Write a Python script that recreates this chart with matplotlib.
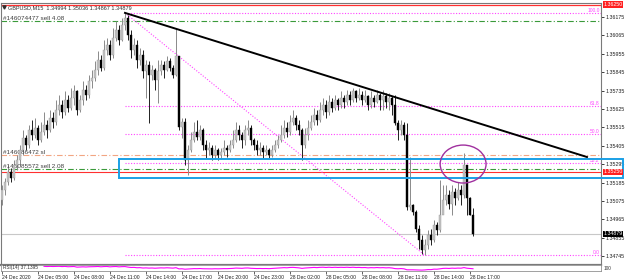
import matplotlib
matplotlib.use("Agg")
import matplotlib.pyplot as plt
from matplotlib.patches import Rectangle, Ellipse
import numpy as np

plt.rcParams['font.family'] = ['Liberation Sans', 'DejaVu Sans']

# ---------------- data ----------------
title_text = "GBPUSD,M15  1.34994 1.35036 1.34867 1.34879"
first_open = 1.3508
closes = [1.3514, 1.3519, 1.3525, 1.3521, 1.3529, 1.3532, 1.3538, 1.3545, 1.3541, 1.3550,
          1.3547, 1.3551, 1.3544, 1.3549, 1.3553, 1.3550, 1.3557, 1.3555, 1.3562, 1.3565,
          1.3561, 1.3568, 1.3563, 1.3569, 1.3573, 1.3562, 1.3568, 1.3574, 1.3571, 1.3579,
          1.3581, 1.3586, 1.3592, 1.3587, 1.3598, 1.3601, 1.3595, 1.3605, 1.3610, 1.3604,
          1.3613, 1.3617, 1.3607, 1.3598, 1.3601, 1.3592, 1.3595, 1.3585, 1.3589, 1.3583,
          1.3586, 1.3580, 1.3585, 1.3589, 1.3586, 1.3591, 1.3587, 1.3583, 1.3594, 1.3552,
          1.3555, 1.3532, 1.3538, 1.3544, 1.3549, 1.3546, 1.3550, 1.3541, 1.3538, 1.3539,
          1.3535, 1.3538, 1.3535, 1.3537, 1.3539, 1.3538, 1.3541, 1.3544, 1.3550, 1.3547,
          1.3544, 1.3550, 1.3551, 1.3544, 1.3541, 1.3538, 1.3539, 1.3537, 1.3538, 1.3535,
          1.3538, 1.3541, 1.3544, 1.3547, 1.3551, 1.3549, 1.3555, 1.3557, 1.3553, 1.3550,
          1.3541, 1.3547, 1.3551, 1.3555, 1.3559, 1.3556, 1.3562, 1.3565, 1.3561, 1.3567,
          1.3563, 1.3568, 1.3565, 1.3569, 1.3567, 1.3571, 1.3568, 1.3573, 1.3569, 1.3571,
          1.3568, 1.3570, 1.3565, 1.3569, 1.3567, 1.3571, 1.3568, 1.3570, 1.3567, 1.3569,
          1.3565, 1.3554, 1.3550, 1.3553, 1.3547, 1.3504, 1.3505, 1.3501, 1.3491, 1.3484,
          1.3478, 1.3481, 1.3487, 1.3484, 1.3493, 1.3490, 1.3499, 1.3508, 1.3511, 1.3506,
          1.3513, 1.3509, 1.3514, 1.3511, 1.3529, 1.3509, 1.34994, 1.34879]
highs = [1.3517, 1.3521, 1.3529, 1.3527, 1.3532, 1.3535, 1.3541, 1.3550, 1.3547, 1.3553,
         1.3556, 1.3557, 1.3553, 1.3555, 1.3561, 1.3556, 1.3562, 1.3561, 1.3568, 1.3571,
         1.3568, 1.3573, 1.3571, 1.3575, 1.3577, 1.3574, 1.3571, 1.3579, 1.3577, 1.3583,
         1.3586, 1.3591, 1.3597, 1.3595, 1.3604, 1.3605, 1.3604, 1.3611, 1.3615, 1.3613,
         1.3617, 1.3620, 1.3619, 1.3610, 1.3605, 1.3604, 1.3599, 1.3598, 1.3592, 1.3591,
         1.3589, 1.3587, 1.3592, 1.3592, 1.3591, 1.3594, 1.3593, 1.3589, 1.3611, 1.3594,
         1.3557, 1.3557, 1.3541, 1.3549, 1.3555, 1.3556, 1.3553, 1.3551, 1.3544, 1.3543,
         1.3541, 1.3541, 1.3539, 1.3539, 1.3544, 1.3541, 1.3544, 1.3550, 1.3555, 1.3553,
         1.3549, 1.3553, 1.3556, 1.3553, 1.3545, 1.3544, 1.3543, 1.3541, 1.3541, 1.3539,
         1.3541, 1.3544, 1.3547, 1.3553, 1.3556, 1.3555, 1.3559, 1.3562, 1.3559, 1.3556,
         1.3551, 1.3551, 1.3556, 1.3559, 1.3563, 1.3562, 1.3567, 1.3569, 1.3568, 1.3571,
         1.3569, 1.3571, 1.3569, 1.3573, 1.3571, 1.3574, 1.3573, 1.3575, 1.3574, 1.3575,
         1.3573, 1.3574, 1.3571, 1.3573, 1.3571, 1.3574, 1.3572, 1.3574, 1.3572, 1.3572,
         1.3570, 1.3571, 1.3556, 1.3556, 1.3555, 1.3554, 1.3534, 1.3506, 1.3502, 1.3493,
         1.3487, 1.3485, 1.3490, 1.3491, 1.3496, 1.3495, 1.3520, 1.3517, 1.3517, 1.3514,
         1.3517, 1.3515, 1.3519, 1.3517, 1.3536, 1.3529, 1.3510, 1.35036]
lows = [1.3505, 1.3511, 1.3517, 1.3519, 1.3520, 1.3526, 1.3529, 1.3535, 1.3538, 1.3539,
        1.3544, 1.3545, 1.3541, 1.3543, 1.3547, 1.3545, 1.3549, 1.3551, 1.3553, 1.3559,
        1.3557, 1.3559, 1.3561, 1.3562, 1.3565, 1.3559, 1.3561, 1.3565, 1.3568, 1.3569,
        1.3575, 1.3579, 1.3583, 1.3585, 1.3586, 1.3595, 1.3592, 1.3593, 1.3603, 1.3601,
        1.3603, 1.3610, 1.3604, 1.3593, 1.3595, 1.3587, 1.3589, 1.3581, 1.3569, 1.3554,
        1.3580, 1.3574, 1.3566, 1.3583, 1.3581, 1.3585, 1.3585, 1.3581, 1.3582, 1.3550,
        1.3545, 1.3529, 1.3523, 1.3537, 1.3543, 1.3544, 1.3544, 1.3538, 1.3533, 1.3535,
        1.3532, 1.3533, 1.3532, 1.3533, 1.3535, 1.3534, 1.3537, 1.3539, 1.3543, 1.3544,
        1.3539, 1.3541, 1.3547, 1.3541, 1.3538, 1.3535, 1.3535, 1.3533, 1.3535, 1.3533,
        1.3534, 1.3537, 1.3539, 1.3543, 1.3545, 1.3546, 1.3547, 1.3553, 1.3550, 1.3547,
        1.3532, 1.3539, 1.3544, 1.3550, 1.3553, 1.3553, 1.3555, 1.3559, 1.3557, 1.3559,
        1.3561, 1.3562, 1.3562, 1.3563, 1.3563, 1.3565, 1.3565, 1.3567, 1.3567, 1.3568,
        1.3565, 1.3567, 1.3562, 1.3563, 1.3564, 1.3566, 1.3562, 1.3562, 1.3563, 1.3562,
        1.3559, 1.3553, 1.3544, 1.3547, 1.3544, 1.3502, 1.3502, 1.3499, 1.3489, 1.3479,
        1.3476, 1.3475, 1.3479, 1.3481, 1.3483, 1.3487, 1.3489, 1.3502, 1.3505, 1.3503,
        1.3499, 1.3505, 1.3508, 1.3505, 1.3509, 1.3499, 1.3499, 1.34867]

time_labels = ["24 Dec 2020", "24 Dec 05:00", "24 Dec 08:00", "24 Dec 11:00", "24 Dec 14:00",
               "24 Dec 17:00", "24 Dec 20:00", "24 Dec 23:00", "28 Dec 02:00", "28 Dec 05:00",
               "28 Dec 08:00", "28 Dec 11:00", "28 Dec 14:00", "28 Dec 17:00"]
time_label_bars = [0, 12, 24, 36, 48, 60, 72, 84, 96, 108, 120, 132, 144, 156]
price_ticks = [1.36175, 1.36065, 1.35955, 1.35845, 1.35735, 1.35625, 1.35515, 1.35405,
               1.35295, 1.35185, 1.35075, 1.34965, 1.34855, 1.34745]

top_red_level = 1.36250
sell4_level = 1.36151
sl_level = 1.35349
sell2_level = 1.35266
red_level = 1.35250
current_price = 1.34879
box_top, box_bottom, box_start = 1.35325, 1.35210, 39
trend_start = (41, 1.36200)
trend_end = (195, 1.35338)
fib_high_bar, fib_low_bar = 41, 141
fib_ratios = [0.0, 38.2, 50.0, 61.8, 100.0]
ellipse_center = (153.7, 1.35296)
ellipse_size = (15.3, 0.00227)
rsi_label = "RSI(14) 37.1395"

# ---------------- figure ----------------
W, H = 625, 280
fig = plt.figure(figsize=(W / 100, H / 100), dpi=100)
fig.patch.set_facecolor("white")
ax = fig.add_axes([1 / W, 15 / H, 600 / W, 262 / H])
ax2 = fig.add_axes([1 / W, 9 / H, 600 / W, 6 / H])

n = len(closes)
x = np.arange(n)
opens = [first_open] + closes[:-1]
xlim = (-1 / 3, 200 - 1 / 3)
ax.set_xlim(*xlim)
ax.set_ylim(1.346923, 1.362591)

FS_PRICE = 3.8
FS_TIME = 3.6
FS_TITLE = 4.0
FS_ORDER = 4.6
FS_FIB = 3.5

# candles
for i in range(n):
    o, h, l, c = opens[i], highs[i], lows[i], closes[i]
    bull = c >= o
    wick = "#8a8a8a" if bull else "#202020"
    ax.vlines(i, l, h, color=wick, lw=0.7, zorder=3)
    body_lo, body_h = min(o, c), max(abs(c - o), 0.000015)
    ax.bar(i, body_h, bottom=body_lo, width=0.72,
           color="#c4c4c4" if bull else "#000000",
           edgecolor="#9a9a9a" if bull else "#000000", lw=0.3, zorder=4)

# horizontal order lines
ax.axhline(top_red_level, color="#ff3030", lw=0.9, zorder=2)
ax.axhline(sell4_level, color="#3a9a3a", lw=0.8, ls=(0, (5, 2, 1, 2)), zorder=2)
ax.axhline(sl_level, color="#f2a582", lw=0.8, ls=(0, (5, 2, 1, 2)), zorder=2)
ax.axhline(sell2_level, color="#3a9a3a", lw=0.8, ls=(0, (5, 2, 1, 2)), zorder=2)
ax.axhline(red_level, color="#ff3030", lw=0.8, zorder=2)
ax.axhline(current_price, color="#c8c8c8", lw=0.8, zorder=1)

ytr = ax.get_yaxis_transform()
ax.text(0.004, sell4_level, "#146074477 sell 4.08", transform=ytr, fontsize=FS_ORDER,
        color="#404040", va="bottom", ha="left")
ax.text(0.004, sl_level, "#146086472 sl", transform=ytr, fontsize=FS_ORDER,
        color="#404040", va="bottom", ha="left")
ax.text(0.004, sell2_level, "#146085572 sell 2.08", transform=ytr, fontsize=FS_ORDER,
        color="#404040", va="bottom", ha="left")

# fibonacci
fh, fl = highs[fib_high_bar], lows[fib_low_bar]
for r in fib_ratios:
    lvl = fl + (fh - fl) * r / 100.0
    ax.plot([fib_high_bar, xlim[1]], [lvl, lvl], color="#ff44ff", lw=0.8,
            ls=(0, (1, 1.5)), zorder=2)
    ax.text(0.998, lvl, f"{r:.1f}", transform=ytr, fontsize=FS_FIB, color="#ff44ff",
            ha="right", va="bottom")
ax.plot([fib_high_bar, fib_low_bar], [fh, fl], color="#ff44ff", lw=0.8,
        ls=(0, (1, 1.5)), zorder=2)

# trendline
ax.plot([trend_start[0], trend_end[0]], [trend_start[1], trend_end[1]],
        color="black", lw=1.4, zorder=5)

# blue box
rect = Rectangle((box_start, box_bottom), 207 - box_start, box_top - box_bottom,
                 fill=False, edgecolor="#1aa0e6", lw=1.4, clip_on=False, zorder=6)
ax.add_patch(rect)

# ellipse
ax.add_patch(Ellipse(ellipse_center, ellipse_size[0], ellipse_size[1], fill=False,
                     edgecolor="#a0309f", lw=1.0, zorder=6))

# title
ax.text(0.012, 0.993, title_text, transform=ax.transAxes, fontsize=FS_TITLE,
        color="#303030", ha="left", va="top", zorder=7)
ax.plot([0.005], [0.986], marker="v", ms=2.3, color="#303030",
        transform=ax.transAxes, zorder=7)

# axes styling
ax.set_xticks([])
ax.yaxis.tick_right()
ax.set_yticks(price_ticks)
ax.set_yticklabels([f"{p:.5f}" for p in price_ticks])
ax.tick_params(axis="y", labelsize=FS_PRICE, length=2, width=0.6, pad=1.2, colors="#202020")
for s in ax.spines.values():
    s.set_color("#7a7a7a")
    s.set_linewidth(0.8)
ax.spines["bottom"].set_linewidth(1.6)

# price boxes
for val, bg, fg in [(top_red_level, "#ff2020", "white"), (red_level, "#ff2020", "white"),
                    (current_price, "#000000", "white")]:
    ax.text(1.004, val, f"{val:.5f}", transform=ytr, fontsize=FS_PRICE, color=fg,
            ha="left", va="center", zorder=8, clip_on=False,
            bbox=dict(facecolor=bg, edgecolor="none", pad=0.4))

# RSI subwindow (RSI(14) computed from the closes)
c = np.array([first_open] + closes)
d = np.diff(c)
up = np.where(d > 0, d, 0.0)
dn = np.where(d < 0, -d, 0.0)
rsi = np.full(n, np.nan)
p = 14
au, ad = up[:p].mean(), dn[:p].mean()
for i in range(p, n):
    au = (au * (p - 1) + up[i]) / p
    ad = (ad * (p - 1) + dn[i]) / p
    rsi[i] = 100 - 100 / (1 + au / ad) if ad > 0 else 100
ax2.plot(x, rsi, color="#ff00ff", lw=0.8)
ax2.set_xlim(*xlim)
ax2.set_ylim(0, 100)
ax2.set_yticks([])
ax2.set_xticks(time_label_bars)
ax2.set_xticklabels(time_labels)
for lbl in ax2.get_xticklabels():
    lbl.set_ha("left")
ax2.tick_params(axis="x", labelsize=FS_TIME, length=2, width=0.5, pad=0.8, colors="#202020")
for s in ax2.spines.values():
    s.set_color("#909090")
    s.set_linewidth(0.6)
    s.set_linestyle((0, (1, 1)))
ax2.text(0.003, 0.5, rsi_label, transform=ax2.transAxes, fontsize=3.4,
         color="#303030", va="center", ha="left")
ax2.text(1.004, 0.5, "100", transform=ax2.transAxes, fontsize=3.4,
         color="#303030", va="center", ha="left")

fig.savefig("out.png", dpi=100, facecolor="white")
